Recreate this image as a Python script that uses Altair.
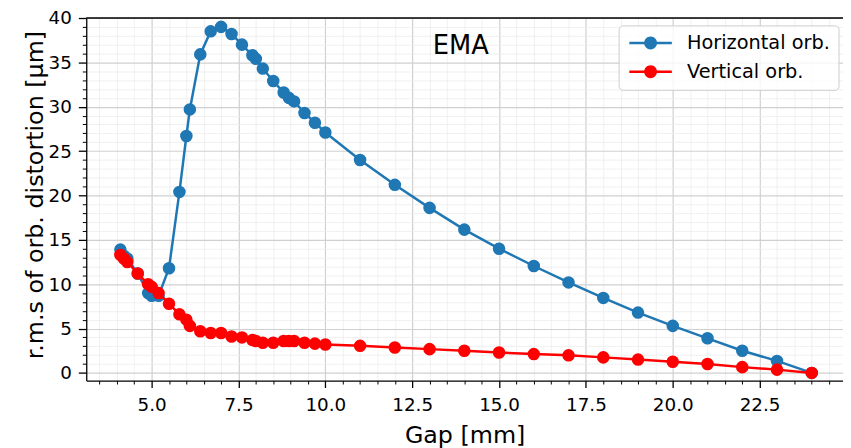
import altair as alt
import pandas as pd

# ---------------- data ----------------
GAP = [4.1, 4.2, 4.3, 4.6, 4.9, 5.0, 5.2, 5.5, 5.8, 6.0, 6.1, 6.4, 6.7, 7.0, 7.3,
       7.6, 7.9, 8.0, 8.2, 8.5, 8.8, 8.95, 9.1, 9.4, 9.7, 10.0, 11, 12, 13, 14,
       15, 16, 17, 18, 19, 20, 21, 22, 23, 24]
RMS_H = [13.9, 13.2, 12.9, 11.2, 9.0, 8.7, 8.7, 11.8, 20.4, 26.7, 29.7, 35.9, 38.5,
         39.0, 38.2, 37.0, 35.8, 35.4, 34.3, 32.9, 31.6, 31.0, 30.6, 29.3, 28.2,
         27.1, 24.0, 21.2, 18.6, 16.15, 14.0, 12.05, 10.2, 8.45, 6.8, 5.3, 3.9,
         2.5, 1.35, 0.0]
RMS_V = [13.3, 12.9, 12.5, 11.2, 10.0, 9.7, 9.0, 7.8, 6.6, 6.0, 5.3, 4.7, 4.5, 4.5,
         4.1, 4.0, 3.7, 3.6, 3.4, 3.4, 3.6, 3.6, 3.6, 3.4, 3.3, 3.2, 3.05, 2.87,
         2.68, 2.5, 2.3, 2.12, 1.98, 1.75, 1.5, 1.26, 1.0, 0.65, 0.37, 0.0]
SERIES = ["Horizontal orb.", "Vertical orb."]
COLORS = ["#1f77b4", "#ff0000"]

X_DOMAIN = [3.118, 24.9]
Y_DOMAIN = [-0.86, 40]
X_TICKS = [i * 0.5 for i in range(7, 50)]   # 3.5 .. 24.5 (minor every 0.5)
Y_TICKS = list(range(0, 41))                # minor every 1

ANNOT_TEXT = ["EMA"]
ANNOT_X = [13.9]
ANNOT_Y = [36.0]

W, H = 764, 366
FONT = "DejaVu Sans"

df = pd.DataFrame({
    "gap": GAP + GAP,
    "rms": RMS_H + RMS_V,
    "series": [SERIES[0]] * len(GAP) + [SERIES[1]] * len(GAP),
})
ann = pd.DataFrame({"gap": ANNOT_X, "rms": ANNOT_Y, "label": ANNOT_TEXT})

xmaj = "datum.value % 2.5 === 0"
ymaj = "datum.value % 5 === 0"

x_axis = alt.Axis(
    values=X_TICKS, title="Gap [mm]",
    labelExpr=f"{xmaj} ? format(datum.value, '.1f') : ''",
    tickSize={"condition": {"test": xmaj, "value": 7}, "value": 3.5},
    tickWidth={"condition": {"test": xmaj, "value": 1.3}, "value": 1.0},
    gridColor={"condition": {"test": xmaj, "value": "#d0d0d0"}, "value": "#ececec"},
    gridWidth={"condition": {"test": xmaj, "value": 1.2}, "value": 0.8},
    labelOverlap=False, labelFlush=False, labelPadding=8,
    labelFontSize=18.5, labelFont=FONT, labelColor="black",
    titleFontSize=24, titleFont=FONT, titleFontWeight="normal", titleColor="black",
    titleY=62.3, titleBaseline="alphabetic",
    domainColor="black", domainWidth=1.3, tickColor="black",
)
y_axis = alt.Axis(
    values=Y_TICKS, title="r.m.s of orb. distortion [μm]",
    labelExpr=f"{ymaj} ? format(datum.value, 'd') : ''",
    tickSize={"condition": {"test": ymaj, "value": 8}, "value": 4},
    tickWidth={"condition": {"test": ymaj, "value": 1.3}, "value": 1.0},
    gridColor={"condition": {"test": ymaj, "value": "#d0d0d0"}, "value": "#ececec"},
    gridWidth={"condition": {"test": ymaj, "value": 1.2}, "value": 0.8},
    labelOverlap=False, labelFlush=False, labelPadding=7,
    labelFontSize=18.5, labelFont=FONT, labelColor="black",
    titleFontSize=24, titleFont=FONT, titleFontWeight="normal", titleColor="black",
    titleX=-44, titleY=178.3, titleAngle=270, titleAlign="center",
    titleBaseline="alphabetic",
    domainColor="black", domainWidth=1.3, tickColor="black",
)

xenc = alt.X("gap:Q", scale=alt.Scale(domain=X_DOMAIN, nice=False, zero=False), axis=x_axis)
yenc = alt.Y("rms:Q", scale=alt.Scale(domain=Y_DOMAIN, nice=False, zero=False), axis=y_axis)

LEGEND_SYMBOL = ("M-3.3,-0.18L-0.95,-0.18L-0.95,0.18L-3.3,0.18Z"
                 "M0.95,-0.18L3.3,-0.18L3.3,0.18L0.95,0.18Z"
                 "M1,0A1,1 0 1,1 -1,0A1,1 0 1,1 1,0Z")

color = alt.Color(
    "series:N",
    scale=alt.Scale(domain=SERIES, range=COLORS),
    legend=alt.Legend(
        title=None, orient="none", legendX=537.5, legendY=7.5,
        symbolType=LEGEND_SYMBOL, symbolSize=169, symbolStrokeWidth=0,
        symbolOpacity=1, symbolOffset=14.5, labelOffset=27,
        labelFontSize=19.5, labelFont=FONT, labelColor="black",
        fillColor="rgba(255,255,255,0.8)", strokeColor="#cccccc",
        cornerRadius=4, padding=8, rowPadding=8,
    ),
)

base = alt.Chart(df)
layers = []
for name, col in zip(SERIES, COLORS):
    sub = base.transform_filter(alt.datum.series == name)
    layers.append(sub.mark_line(color=col, strokeWidth=2.5).encode(x=xenc, y=yenc))
    layers.append(sub.mark_circle(size=160, opacity=1).encode(x=xenc, y=yenc, color=color))

text = alt.Chart(ann).mark_text(
    fontSize=26, font=FONT, align="center", baseline="alphabetic", color="black"
).encode(x=xenc, y=yenc, text="label:N")

top = alt.Chart(pd.DataFrame({"v": [Y_DOMAIN[1]]})).mark_rule(
    color="black", strokeWidth=1.3
).encode(y=alt.Y("v:Q", scale=alt.Scale(domain=Y_DOMAIN, nice=False, zero=False), axis=y_axis),
         x=alt.value(0), x2=alt.value(W))

chart = alt.layer(*layers, text, top).properties(
    width=W, height=H,
    autosize=alt.AutoSizeParams(type="none"),
    padding={"left": 79, "top": 8, "right": 0, "bottom": 66},
).configure_view(stroke=None)

chart.save("out.html", embed_options={"renderer": "svg", "actions": False})
